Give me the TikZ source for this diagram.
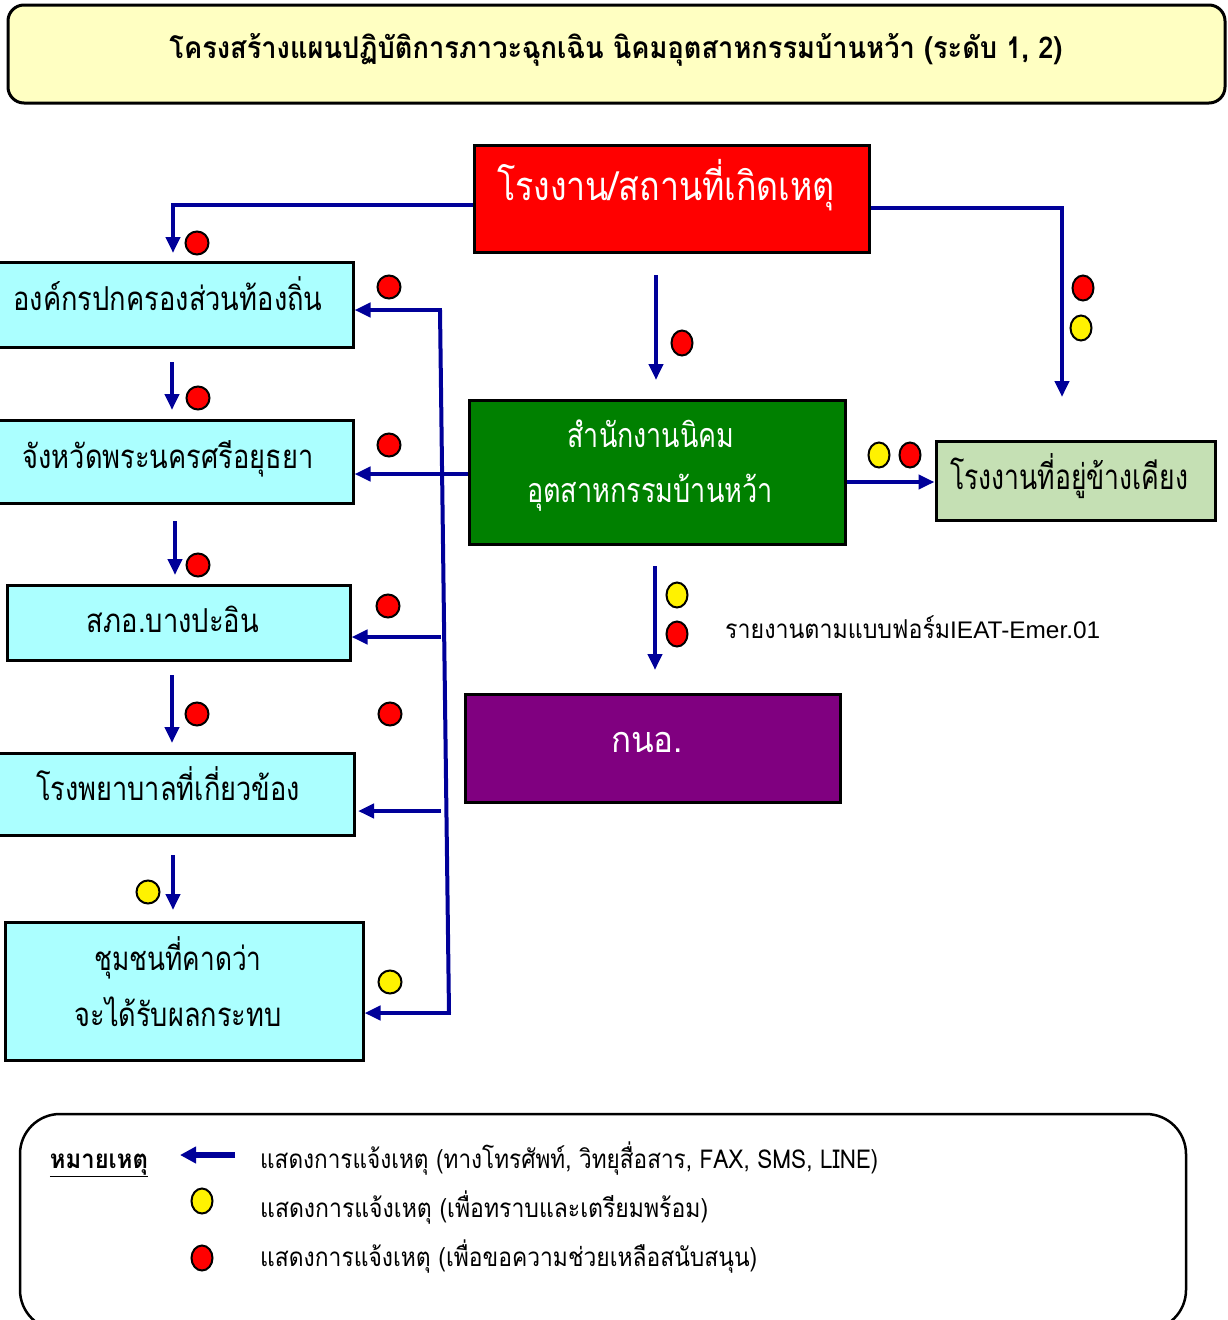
\documentclass[tikz,border=0pt]{standalone}
\usepackage{fontspec}
\usepackage{graphicx}
\usetikzlibrary{arrows.meta,shapes.geometric}
\newfontfamily\thai[Script=Thai]{Loma}
\newfontfamily\latin{Liberation Sans}
\definecolor{titlefill}{HTML}{FFFFC2}
\definecolor{cyanfill}{HTML}{ABFFFF}
\definecolor{greenfill}{HTML}{008000}
\definecolor{neighfill}{HTML}{C5E0B4}
\definecolor{purplefill}{HTML}{800080}
\definecolor{arrblue}{HTML}{000099}
\newcommand\fitw[2]{\resizebox{#1}{\height}{#2}}
\begin{document}
\begin{tikzpicture}[x=1pt,y=-1pt,
  box/.style={draw=black,line width=3pt,inner sep=0pt},
  arr/.style={draw=arrblue,line width=4pt,-{Triangle[length=16pt,width=14pt]}},
  ln/.style={draw=arrblue,line width=4pt},
  rdot/.style={circle,draw=black,line width=2pt,fill=red,minimum size=23pt,inner sep=0pt},
  ydot/.style={circle,draw=black,line width=2pt,fill=yellow,minimum size=23pt,inner sep=0pt},
  rell/.style={ellipse,draw=black,line width=2pt,fill=red,minimum width=21pt,minimum height=25pt,inner sep=0pt},
  yell/.style={ellipse,draw=black,line width=2pt,fill=yellow,minimum width=21pt,minimum height=25pt,inner sep=0pt},
  txt/.style={inner sep=0pt,anchor=base}]
\useasboundingbox (0,0) rectangle (1227,1320);
% boxes
\node[box,fill=titlefill,rounded corners=16pt,minimum width=1217pt,minimum height=98pt] (title) at (616.5,54) {};
\node[box,fill=red,minimum width=395pt,minimum height=107pt] (red) at (671.5,198.5) {};
\node[box,fill=cyanfill,minimum width=356pt,minimum height=85pt] (b1) at (175,304.5) {};
\node[box,fill=cyanfill,minimum width=356pt,minimum height=83pt] (b2) at (175,461.5) {};
\node[box,fill=cyanfill,minimum width=343pt,minimum height=75pt] (b3) at (178.5,622.5) {};
\node[box,fill=cyanfill,minimum width=357pt,minimum height=82pt] (b4) at (175.5,794) {};
\node[box,fill=cyanfill,minimum width=358pt,minimum height=138pt] (b5) at (184,991) {};
\node[box,fill=greenfill,minimum width=376pt,minimum height=144pt] (green) at (657,472) {};
\node[box,fill=neighfill,minimum width=279pt,minimum height=79pt] (neigh) at (1075.5,480.5) {};
\node[box,fill=purplefill,minimum width=375pt,minimum height=108pt] (kno) at (652.5,748) {};
\node[draw=black,line width=2.5pt,rounded corners=40pt,minimum width=1166pt,minimum height=216pt,inner sep=0pt] (legend) at (603,1222) {};
% texts
\node[txt] (tt) at (616,58) {\fitw{893pt}{\thai\fontsize{30}{36}\selectfont\bfseries โครงสร้างแผนปฏิบัติการภาวะฉุกเฉิน นิคมอุตสาหกรรมบ้านหว้า (ระดับ 1, 2)}};
\node[txt,text=white] (tred) at (666,200) {\fitw{338pt}{\thai\fontsize{40}{48}\selectfont โรงงาน/สถานที่เกิดเหตุ}};
\node[txt] (t1) at (168,310) {\fitw{309pt}{\thai\fontsize{33}{38}\selectfont องค์กรปกครองส่วนท้องถิ่น}};
\node[txt] (t2) at (168,468) {\fitw{291pt}{\thai\fontsize{33}{38}\selectfont จังหวัดพระนครศรีอยุธยา}};
\node[txt] (t3) at (173,632) {\fitw{172pt}{\thai\fontsize{33}{38}\selectfont สภอ.บางปะอิน}};
\node[txt] (t4) at (168,800) {\fitw{264pt}{\thai\fontsize{33}{38}\selectfont โรงพยาบาลที่เกี่ยวข้อง}};
\node[txt] (t5a) at (178,970) {\fitw{167pt}{\thai\fontsize{33}{38}\selectfont ชุมชนที่คาดว่า}};
\node[txt] (t5b) at (178,1026) {\fitw{207pt}{\thai\fontsize{33}{38}\selectfont จะได้รับผลกระทบ}};
\node[txt,text=white] (tg1) at (651,447) {\fitw{167pt}{\thai\fontsize{34}{40}\selectfont สำนักงานนิคม}};
\node[txt,text=white] (tg2) at (650,502) {\fitw{246pt}{\thai\fontsize{34}{40}\selectfont อุตสาหกรรมบ้านหว้า}};
\node[txt] (tn) at (1069,489) {\fitw{238pt}{\thai\fontsize{35}{40}\selectfont โรงงานที่อยู่ข้างเคียง}};
\node[txt,text=white] (tk) at (647,752) {\fitw{72pt}{\thai\fontsize{36}{42}\selectfont กนอ.}};
\node[txt,anchor=base west] (trep) at (725,638) {\fitw{225pt}{\thai\fontsize{26}{30}\selectfont รายงานตามแบบฟอร์ม}\fitw{150pt}{\latin\fontsize{24}{28}\selectfont IEAT-Emer.01}};
\node[txt] (tnote) at (99,1168) {\fitw{98pt}{\thai\fontsize{26}{30}\selectfont\bfseries\underline{หมายเหตุ}}};
\node[txt,anchor=base west] (l1) at (260,1168) {\fitw{618pt}{\thai\fontsize{26}{30}\selectfont แสดงการแจ้งเหตุ (ทางโทรศัพท์, วิทยุสื่อสาร, FAX, SMS, LINE)}};
\node[txt,anchor=base west] (l2) at (260,1217) {\fitw{448pt}{\thai\fontsize{26}{30}\selectfont แสดงการแจ้งเหตุ (เพื่อทราบและเตรียมพร้อม)}};
\node[txt,anchor=base west] (l3) at (260,1266) {\fitw{497pt}{\thai\fontsize{26}{30}\selectfont แสดงการแจ้งเหตุ (เพื่อขอความช่วยเหลือสนับสนุน)}};
% coordinates
\coordinate (c1) at (173,253);
\coordinate (c2) at (1062,397);
\coordinate (c3a) at (656,275); \coordinate (c3b) at (656,380);
\coordinate (vt) at (440,310); \coordinate (vb) at (449,1013);
\coordinate (h3) at (441,637); \coordinate (h4) at (441,811); \coordinate (h4e) at (358,811);
\coordinate (k1) at (655,566); \coordinate (k2) at (655,670);
\coordinate (la) at (235,1155); \coordinate (lb) at (180,1155);
% connectors
\draw[arr] ([yshift=-6.5pt]red.west) -| (c1);
\draw[arr] ([yshift=-9.5pt]red.east) -| (c2);
\draw[arr] (c3a) -- (c3b);
\draw[arr] ([yshift=-10pt]green.east) -- ([yshift=-10pt]green.east -| neigh.west);
\draw[arr] ([yshift=-2pt]green.west) -- ([yshift=-2pt]green.west -| b2.east);
\draw[ln] (vt) -- (vb);
\draw[arr] ([xshift=2pt]vt) -- (vt -| b1.east);
\draw[arr] (h3) -- (h3 -| b3.east);
\draw[arr] (h4) -- (h4e);
\draw[arr] ([xshift=2pt]vb) -- (vb -| b5.east);
\draw[arr] (172,362) -- (172,410);
\draw[arr] (175,521) -- (175,575);
\draw[arr] (172,675) -- (172,743);
\draw[arr] (173,855) -- (173,910);
\draw[arr] (k1) -- (k2);
\draw[draw=arrblue,line width=6pt,-{Triangle[length=16pt,width=16pt]}] (la) -- (lb);
% dots
\node[rdot] (d1) at (197,243) {};
\node[rdot] (d2) at (389,287) {};
\node[rdot] (d3) at (198,398) {};
\node[rdot] (d4) at (389,445) {};
\node[rdot] (d5) at (198,565) {};
\node[rdot] (d6) at (388,606) {};
\node[rdot] (d7) at (197,714) {};
\node[rdot] (d8) at (390,714) {};
\node[ydot] (d9) at (148,892) {};
\node[ydot] (d10) at (390,982) {};
\node[rell] (d11) at (682,343) {};
\node[rell] (d12) at (1083,288) {};
\node[yell] (d13) at (1081,328) {};
\node[yell] (d14) at (879,455) {};
\node[rell] (d15) at (910,455) {};
\node[yell] (d16) at (677,595) {};
\node[rell] (d17) at (677,634) {};
\node[yell] (d18) at (202,1201) {};
\node[rell] (d19) at (202,1258) {};
\end{tikzpicture}
\end{document}
